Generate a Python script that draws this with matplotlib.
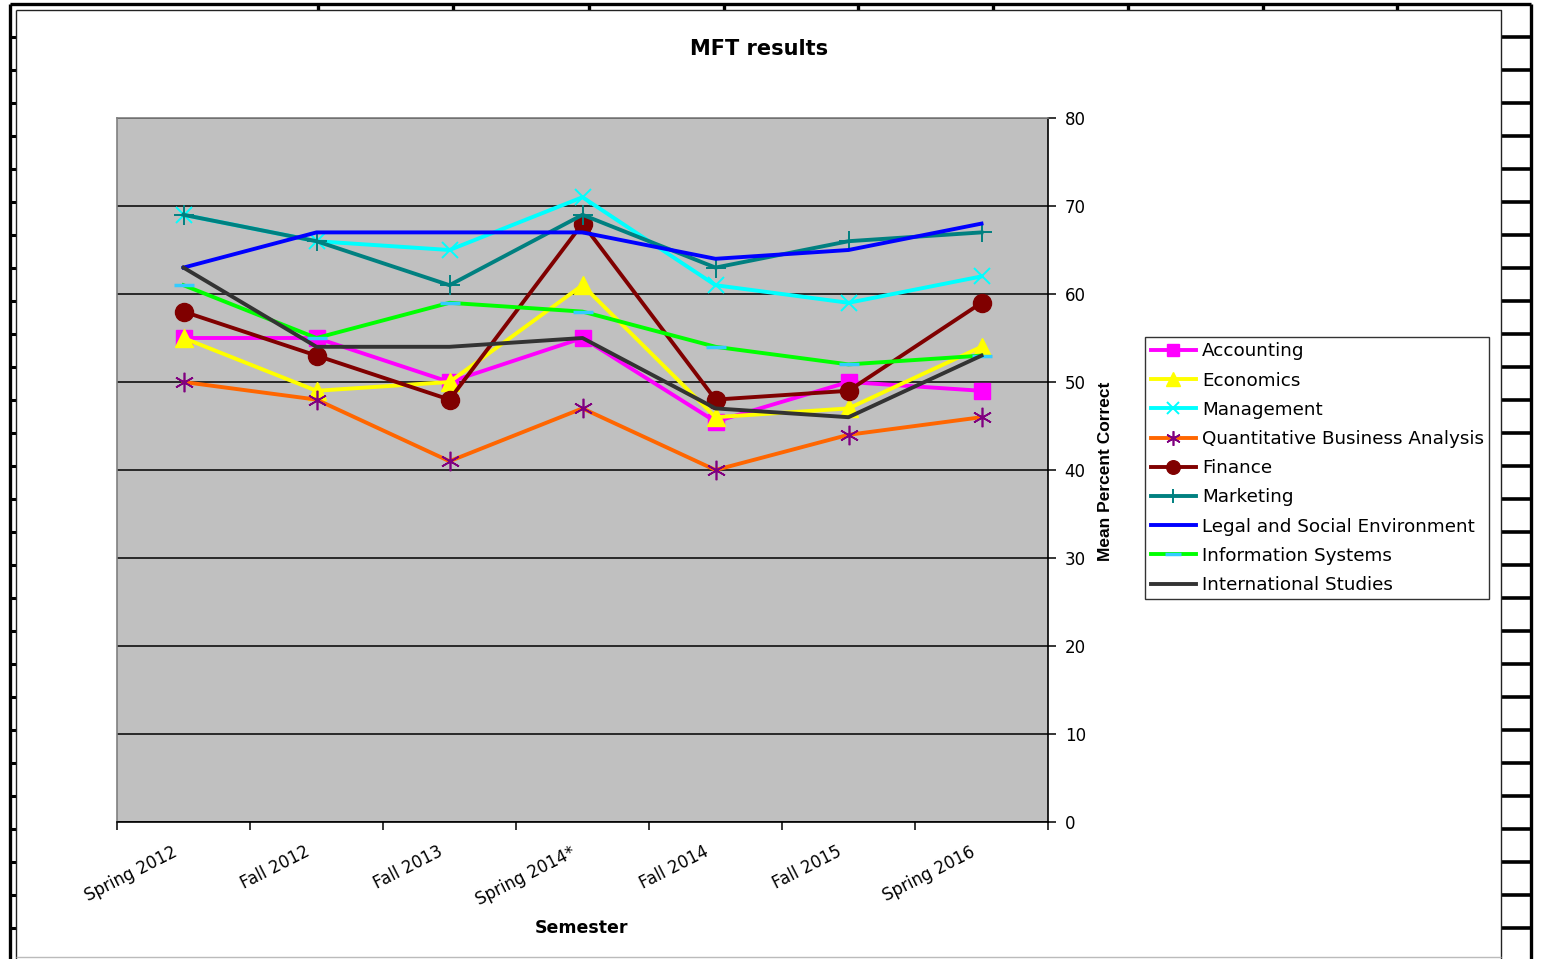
import numpy as np
import matplotlib
matplotlib.use("Agg")
from matplotlib import pyplot as plt
from matplotlib.lines import Line2D
from matplotlib.ticker import MultipleLocator, FixedLocator
from matplotlib.transforms import ScaledTranslation

plt.rcParams['font.family'] = ['DejaVu Sans']

semesters = ['Spring 2012', 'Fall 2012', 'Fall 2013', 'Spring 2014*',
             'Fall 2014', 'Fall 2015', 'Spring 2016']

accounting = [55, 55, 50, 55, 45.5, 50, 49]
economics = [55, 49, 50, 61, 46, 47, 54]
management = [69, 66, 65, 71, 61, 59, 62]
quant_business = [50, 48, 41, 47, 40, 44, 46]
finance = [58, 53, 48, 68, 48, 49, 59]
marketing = [69, 66, 61, 69, 63, 66, 67]
legal_social = [63, 67, 67, 67, 64, 65, 68]
info_systems = [61, 55, 59, 58, 54, 52, 53]
intl_studies = [63, 54, 54, 55, 47, 46, 53]

W, H = 1543, 959
fig = plt.figure(figsize=(W / 100, H / 100), dpi=100)


def fx(x):
    return x / W


def fy(y):
    return 1 - y / H


def pline(xs, ys, lw=1.0, color='black'):
    fig.add_artist(Line2D([fx(v) for v in xs], [fy(v) for v in ys],
                          transform=fig.transFigure, lw=lw, color=color,
                          solid_capstyle='butt'))


# spreadsheet cells around the chart object
pline([10, 10], [4, 959], lw=2.4)
pline([1531, 1531], [4, 959], lw=2.4)
pline([10, 1531], [4, 4], lw=2.4)
for yy in np.arange(37, 959, 33):
    pline([10, 16], [yy, yy], lw=2.2)
    pline([1501, 1531], [yy, yy], lw=2.6)
for xx in [318, 453, 589, 724, 858, 993, 1128, 1263, 1397]:
    pline([xx, xx], [4, 10], lw=2.4)
# chart area border
pline([16, 1501, 1501], [10, 10, 959], lw=1.0, color='#222222')
pline([16, 16], [10, 959], lw=1.0, color='#222222')
pline([16, 1501], [957, 957], lw=1.0, color='#bbbbbb')

ax = fig.add_axes([fx(117), fy(822), fx(1048) - fx(117), fy(118) - fy(822)])
ax.set_facecolor('#C0C0C0')

x = np.arange(len(semesters))
ms = 12
series = [
    ('Accounting', accounting, dict(color='#FF00FF', marker='s', ms=ms)),
    ('Economics', economics, dict(color='#FFFF00', marker='^', ms=ms + 1)),
    ('Management', management, dict(color='#00FFFF', marker='x', ms=ms, mew=1.4)),
    ('Quantitative Business Analysis', quant_business,
     dict(color='#FF6600', marker=(6, 2, 0), ms=ms + 2, mec='#800080', mew=1.2)),
    ('Finance', finance, dict(color='#800000', marker='o', ms=ms + 1)),
    ('Marketing', marketing, dict(color='#008080', marker='+', ms=ms + 2, mew=1.4)),
    ('Legal and Social Environment', legal_social, dict(color='#0000FF')),
    ('Information Systems', info_systems,
     dict(color='#00FF00', marker='_', ms=ms + 3, mec='#33CCFF', mew=2.5)),
    ('International Studies', intl_studies, dict(color='#333333')),
]
for i, (name, vals, kw) in enumerate(series):
    ax.plot(x, vals, lw=2.8, label=name, zorder=3 + i, clip_on=False, **kw)

ax.set_xlim(-0.5, len(semesters) - 0.5)
ax.set_ylim(0, 80)
ax.yaxis.set_major_locator(MultipleLocator(10))
ax.yaxis.tick_right()
ax.yaxis.set_label_position('right')
ax.grid(axis='y', color='black', lw=1.1)
ax.set_axisbelow(True)

ax.set_xticks(x)
ax.xaxis.set_minor_locator(FixedLocator(np.arange(-0.5, len(semesters), 1)))
ax.tick_params(axis='x', which='major', length=0, pad=15, labelsize=12)
ax.tick_params(axis='x', which='minor', length=6, width=1.1, direction='out')
ax.tick_params(axis='y', length=6, width=1.1, direction='out', labelsize=12,
               pad=6)
ax.set_xticklabels(semesters, rotation=27, ha='right', rotation_mode='anchor')
# nudge the slanted labels left, as Excel does
shift = ScaledTranslation(-12 / 100, 0, fig.dpi_scale_trans)
for lab in ax.xaxis.get_majorticklabels():
    lab.set_transform(lab.get_transform() + shift)

for s in ['left', 'top']:
    ax.spines[s].set_color('#808080')
    ax.spines[s].set_linewidth(1.2)
for s in ['bottom', 'right']:
    ax.spines[s].set_color('black')
    ax.spines[s].set_linewidth(1.2)

fig.text(fx(759), fy(49), 'MFT results', ha='center', va='center',
         fontsize=15, fontweight='bold')
fig.text(fx(1105), fy(471), 'Mean Percent Correct', ha='center', va='center',
         rotation=90, fontsize=12.5, fontweight='bold',
         family=['Liberation Sans', 'DejaVu Sans'])
fig.text(fx(581), fy(928), 'Semester', ha='center', va='center',
         fontsize=12.5, fontweight='bold')

leg = ax.legend(loc='upper left', bbox_to_anchor=(fx(1145), fy(337)),
                bbox_transform=fig.transFigure, frameon=True, fancybox=False,
                edgecolor='black', fontsize=13.2, handlelength=2.5,
                handletextpad=0.3, labelspacing=0.61, borderpad=0.3,
                borderaxespad=0, markerscale=0.75)
leg.get_frame().set_linewidth(1.0)

fig.savefig('out.png', dpi=100, facecolor='white')
